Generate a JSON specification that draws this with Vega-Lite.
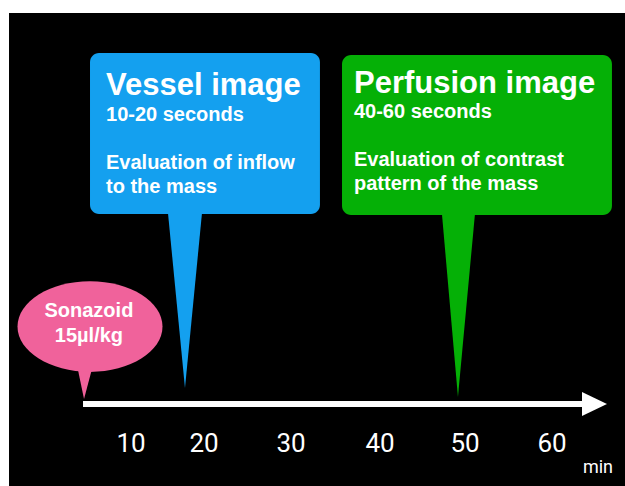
{
  "$schema": "https://vega.github.io/schema/vega-lite/v6.json",
  "width": 625,
  "height": 486,
  "padding": 0,
  "autosize": {"type": "fit", "contains": "padding"},
  "background": "white",
  "config": {"view": {"stroke": null}},
  "datasets": {
    "bg": [{"x": -4.49, "x2": 68.67, "y": 0, "y2": 97.33}],
    "boxes": [
      {"name": "vessel", "x": 5.13, "x2": 32.44, "y": 55.97, "y2": 89.09},
      {"name": "perfusion", "x": 35.06, "x2": 67.12, "y": 55.76, "y2": 88.68}
    ],
    "tails": [
      {"name": "vessel", "y": 56.17, "x": 14.39, "x2": 18.43},
      {"name": "vessel", "y": 20.16, "x": 16.41, "x2": 16.41},
      {"name": "perfusion", "y": 55.97, "x": 46.93, "x2": 50.85},
      {"name": "perfusion", "y": 18.31, "x": 48.83, "x2": 48.83},
      {"name": "sonazoid", "y": 24.9, "x": 3.58, "x2": 5.49},
      {"name": "sonazoid", "y": 17.9, "x": 4.42, "x2": 4.42}
    ],
    "ellipse": [{"name": "sonazoid", "x": 5.13, "y": 32.8}],
    "shaft": [{"x": 4.3, "x2": 64.0, "y": 16.87}],
    "head": [
      {"x": 63.56, "y": 19.34, "y2": 14.4},
      {"x": 66.53, "y": 16.87, "y2": 16.87}
    ],
    "titles": [
      {"x": 7.03, "y": 80.45, "text": "Vessel image"},
      {"x": 36.48, "y": 80.86, "text": "Perfusion image"}
    ],
    "body": [
      {"x": 7.03, "y": 75.1, "text": "10-20 seconds"},
      {"x": 7.03, "y": 65.23, "text": "Evaluation of inflow"},
      {"x": 7.03, "y": 60.29, "text": "to the mass"},
      {"x": 36.48, "y": 75.72, "text": "40-60 seconds"},
      {"x": 36.48, "y": 65.84, "text": "Evaluation of contrast"},
      {"x": 36.48, "y": 60.91, "text": "pattern of the mass"}
    ],
    "dose": [
      {"x": 5.0, "y": 34.77, "text": "Sonazoid"},
      {"x": 5.0, "y": 29.63, "text": "15µl/kg"}
    ],
    "ticks": [
      {"x": 10.0, "y": 8.64, "text": "10"},
      {"x": 18.67, "y": 8.64, "text": "20"},
      {"x": 29.0, "y": 8.64, "text": "30"},
      {"x": 39.57, "y": 8.64, "text": "40"},
      {"x": 49.67, "y": 8.64, "text": "50"},
      {"x": 60.0, "y": 8.64, "text": "60"}
    ],
    "unit": [{"x": 65.46, "y": 3.7, "text": "min"}]
  },
  "layer": [
    {
      "data": {"name": "bg"},
      "mark": {"type": "rect", "color": "black"},
      "encoding": {
        "x": {"field": "x", "type": "quantitative", "scale": {"domain": [-5.56, 68.67], "nice": false, "zero": false}, "axis": null},
        "x2": {"field": "x2"},
        "y": {"field": "y", "type": "quantitative", "scale": {"domain": [0, 100], "nice": false, "zero": false}, "axis": null},
        "y2": {"field": "y2"}
      }
    },
    {
      "data": {"name": "tails"},
      "mark": {"type": "area", "orient": "horizontal", "opacity": 1},
      "encoding": {
        "y": {"field": "y", "type": "quantitative", "scale": {"domain": [0, 100], "nice": false, "zero": false}, "axis": null},
        "x": {"field": "x", "type": "quantitative", "scale": {"domain": [-5.56, 68.67], "nice": false, "zero": false}, "axis": null},
        "x2": {"field": "x2"},
        "color": {"field": "name", "type": "nominal", "scale": {"domain": ["vessel", "perfusion", "sonazoid"], "range": ["#14a0ef", "#05b006", "#f0629b"]}, "legend": null}
      }
    },
    {
      "data": {"name": "boxes"},
      "mark": {"type": "rect", "cornerRadius": 9, "opacity": 1},
      "encoding": {
        "x": {"field": "x", "type": "quantitative", "scale": {"domain": [-5.56, 68.67], "nice": false, "zero": false}, "axis": null},
        "x2": {"field": "x2"},
        "y": {"field": "y", "type": "quantitative", "scale": {"domain": [0, 100], "nice": false, "zero": false}, "axis": null},
        "y2": {"field": "y2"},
        "color": {"field": "name", "type": "nominal", "scale": {"domain": ["vessel", "perfusion", "sonazoid"], "range": ["#14a0ef", "#05b006", "#f0629b"]}, "legend": null}
      }
    },
    {
      "data": {"name": "ellipse"},
      "mark": {"type": "point", "filled": true, "opacity": 1, "strokeWidth": 0, "size": 21025, "shape": "M -1 0 C -1 -0.3452 -0.5523 -0.625 0 -0.625 C 0.5523 -0.625 1 -0.3452 1 0 C 1 0.3452 0.5523 0.625 0 0.625 C -0.5523 0.625 -1 0.3452 -1 0 Z"},
      "encoding": {
        "x": {"field": "x", "type": "quantitative", "scale": {"domain": [-5.56, 68.67], "nice": false, "zero": false}, "axis": null},
        "y": {"field": "y", "type": "quantitative", "scale": {"domain": [0, 100], "nice": false, "zero": false}, "axis": null},
        "color": {"field": "name", "type": "nominal", "scale": {"domain": ["vessel", "perfusion", "sonazoid"], "range": ["#14a0ef", "#05b006", "#f0629b"]}, "legend": null}
      }
    },
    {
      "data": {"name": "shaft"},
      "mark": {"type": "rule", "color": "white", "strokeWidth": 6, "strokeCap": "butt"},
      "encoding": {
        "x": {"field": "x", "type": "quantitative", "scale": {"domain": [-5.56, 68.67], "nice": false, "zero": false}, "axis": null},
        "x2": {"field": "x2"},
        "y": {"field": "y", "type": "quantitative", "scale": {"domain": [0, 100], "nice": false, "zero": false}, "axis": null}
      }
    },
    {
      "data": {"name": "head"},
      "mark": {"type": "area", "orient": "vertical", "color": "white", "opacity": 1},
      "encoding": {
        "x": {"field": "x", "type": "quantitative", "scale": {"domain": [-5.56, 68.67], "nice": false, "zero": false}, "axis": null},
        "y": {"field": "y", "type": "quantitative", "scale": {"domain": [0, 100], "nice": false, "zero": false}, "axis": null},
        "y2": {"field": "y2"}
      }
    },
    {
      "data": {"name": "titles"},
      "mark": {"type": "text", "align": "left", "baseline": "alphabetic", "font": "Liberation Sans", "fontWeight": "bold", "fontSize": 31, "fill": "#ffffff"},
      "encoding": {
        "x": {"field": "x", "type": "quantitative", "scale": {"domain": [-5.56, 68.67], "nice": false, "zero": false}, "axis": null},
        "y": {"field": "y", "type": "quantitative", "scale": {"domain": [0, 100], "nice": false, "zero": false}, "axis": null},
        "text": {"field": "text"}
      }
    },
    {
      "data": {"name": "body"},
      "mark": {"type": "text", "align": "left", "baseline": "alphabetic", "font": "Liberation Sans", "fontWeight": "bold", "fontSize": 20, "fill": "#ffffff"},
      "encoding": {
        "x": {"field": "x", "type": "quantitative", "scale": {"domain": [-5.56, 68.67], "nice": false, "zero": false}, "axis": null},
        "y": {"field": "y", "type": "quantitative", "scale": {"domain": [0, 100], "nice": false, "zero": false}, "axis": null},
        "text": {"field": "text"}
      }
    },
    {
      "data": {"name": "dose"},
      "mark": {"type": "text", "align": "center", "baseline": "alphabetic", "font": "Liberation Sans", "fontWeight": "bold", "fontSize": 20, "fill": "#ffffff"},
      "encoding": {
        "x": {"field": "x", "type": "quantitative", "scale": {"domain": [-5.56, 68.67], "nice": false, "zero": false}, "axis": null},
        "y": {"field": "y", "type": "quantitative", "scale": {"domain": [0, 100], "nice": false, "zero": false}, "axis": null},
        "text": {"field": "text"}
      }
    },
    {
      "data": {"name": "ticks"},
      "mark": {"type": "text", "align": "center", "baseline": "middle", "font": "Roboto", "fontWeight": "normal", "fontSize": 26, "fill": "#ffffff"},
      "encoding": {
        "x": {"field": "x", "type": "quantitative", "scale": {"domain": [-5.56, 68.67], "nice": false, "zero": false}, "axis": null},
        "y": {"field": "y", "type": "quantitative", "scale": {"domain": [0, 100], "nice": false, "zero": false}, "axis": null},
        "text": {"field": "text"}
      }
    },
    {
      "data": {"name": "unit"},
      "mark": {"type": "text", "align": "center", "baseline": "middle", "font": "Roboto", "fontWeight": "normal", "fontSize": 18, "fill": "#ffffff"},
      "encoding": {
        "x": {"field": "x", "type": "quantitative", "scale": {"domain": [-5.56, 68.67], "nice": false, "zero": false}, "axis": null},
        "y": {"field": "y", "type": "quantitative", "scale": {"domain": [0, 100], "nice": false, "zero": false}, "axis": null},
        "text": {"field": "text"}
      }
    }
  ]
}
